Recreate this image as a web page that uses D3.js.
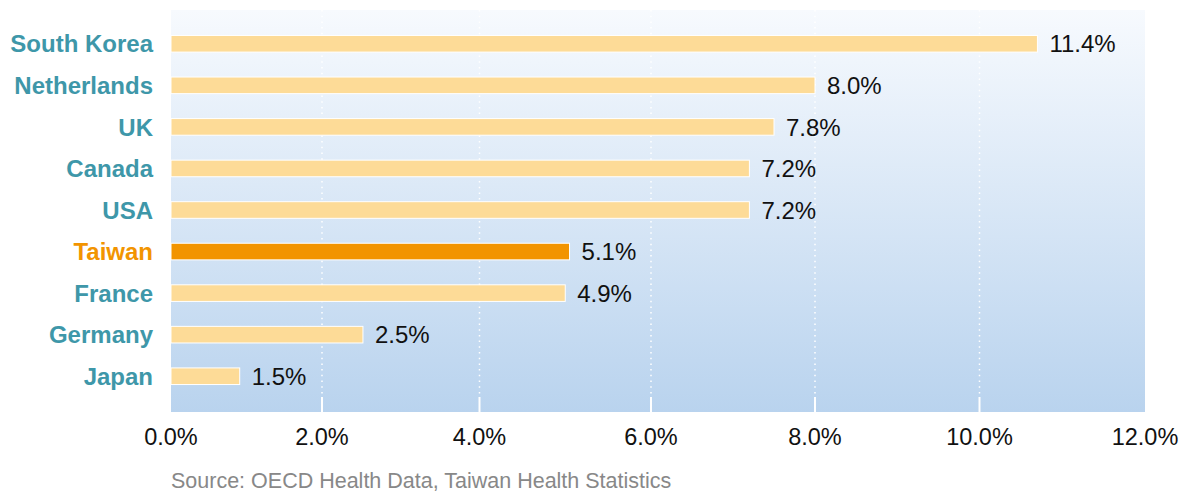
<!DOCTYPE html>
<html>
<head>
<meta charset="utf-8">
<script src="https://cdn.jsdelivr.net/npm/d3@7"></script>
<style>
  body { margin: 0; background: #fff; }
  svg { display: block; font-family: "Liberation Sans", Arial, Helvetica, sans-serif; }
</style>
</head>
<body>
<div id="chart"></div>
<script>
// data
const countries = ['South Korea', 'Netherlands', 'UK', 'Canada', 'USA', 'Taiwan', 'France', 'Germany', 'Japan'];
const labelValues = [11.4, 8.0, 7.8, 7.2, 7.2, 5.1, 4.9, 2.5, 1.5]; // printed next to bars
const barValues = [10.7, 8.0, 7.5, 7.2, 7.2, 5.05, 5.0, 2.52, 0.91]; // bar lengths as drawn
const tickValues = [0, 2, 4, 6, 8, 10, 12];
const highlight = 'Taiwan';
const sourceText = 'Source: OECD Health Data, Taiwan Health Statistics';

const chartAttrs = {
  width: 1191,
  height: 495,
  plot: { left: 171, right: 1145, top: 10, bottom: 412 },
  // the axis in the original is not evenly spaced, keep its tick positions
  tickPos: [171, 322, 479.5, 651, 815, 979.5, 1145]
};

const svg = d3
  .select('#chart')
  .append('svg')
  .attr('width', chartAttrs.width)
  .attr('height', chartAttrs.height);

const p = chartAttrs.plot;

// background gradient
const defs = svg.append('defs');
const grad = defs
  .append('linearGradient')
  .attr('id', 'bg')
  .attr('x1', 0)
  .attr('y1', 0)
  .attr('x2', 0)
  .attr('y2', 1);
grad.append('stop').attr('offset', '0%').attr('stop-color', '#f7fafe');
grad.append('stop').attr('offset', '100%').attr('stop-color', '#b9d3ee');

svg
  .append('rect')
  .attr('x', p.left)
  .attr('y', p.top)
  .attr('width', p.right - p.left)
  .attr('height', p.bottom - p.top)
  .attr('fill', 'url(#bg)');

const x = d3.scaleLinear().domain(tickValues).range(chartAttrs.tickPos);

const y = d3
  .scaleBand()
  .domain(countries)
  .range([23, 397])
  .paddingInner(0.6)
  .paddingOuter(0.3);

// dotted grid lines
svg
  .append('g')
  .selectAll('line')
  .data(tickValues.slice(1, -1))
  .join('line')
  .attr('x1', d => x(d))
  .attr('x2', d => x(d))
  .attr('y1', p.top)
  .attr('y2', 395)
  .attr('stroke', '#fff')
  .attr('stroke-width', 1.5)
  .attr('stroke-dasharray', '1.5,4.2');

// small solid ticks at the bottom
svg
  .append('g')
  .selectAll('line')
  .data(tickValues.slice(1, -1))
  .join('line')
  .attr('x1', d => x(d))
  .attr('x2', d => x(d))
  .attr('y1', 397)
  .attr('y2', p.bottom)
  .attr('stroke', '#fff')
  .attr('stroke-width', 2);

// bars
svg
  .append('g')
  .selectAll('rect')
  .data(countries)
  .join('rect')
  .attr('x', x(0))
  .attr('y', d => y(d))
  .attr('width', (d, i) => x(barValues[i]) - x(0))
  .attr('height', y.bandwidth())
  .attr('fill', d => (d === highlight ? '#f29400' : '#fddb97'))
  .attr('stroke', '#fff')
  .attr('stroke-width', 1);

// value labels
svg
  .append('g')
  .attr('font-size', 24)
  .attr('fill', '#111')
  .selectAll('text')
  .data(countries)
  .join('text')
  .attr('x', (d, i) => x(barValues[i]) + 12)
  .attr('y', d => y(d) + y.bandwidth() / 2)
  .attr('dy', '0.36em')
  .text((d, i) => labelValues[i].toFixed(1) + '%');

// country labels
svg
  .append('g')
  .attr('font-size', 24)
  .attr('font-weight', 'bold')
  .attr('text-anchor', 'end')
  .selectAll('text')
  .data(countries)
  .join('text')
  .attr('x', 153)
  .attr('y', d => y(d) + y.bandwidth() / 2)
  .attr('dy', '0.36em')
  .attr('fill', d => (d === highlight ? '#f29400' : '#3e97a9'))
  .text(d => d);

// x axis labels
svg
  .append('g')
  .attr('font-size', 23.5)
  .attr('fill', '#111')
  .attr('text-anchor', 'middle')
  .selectAll('text')
  .data(tickValues)
  .join('text')
  .attr('x', d => x(d))
  .attr('y', 445)
  .text(d => d.toFixed(1) + '%');

// source note
svg
  .append('text')
  .attr('x', 171)
  .attr('y', 488)
  .attr('font-size', 21.5)
  .attr('fill', '#888')
  .text(sourceText);
</script>
</body>
</html>
